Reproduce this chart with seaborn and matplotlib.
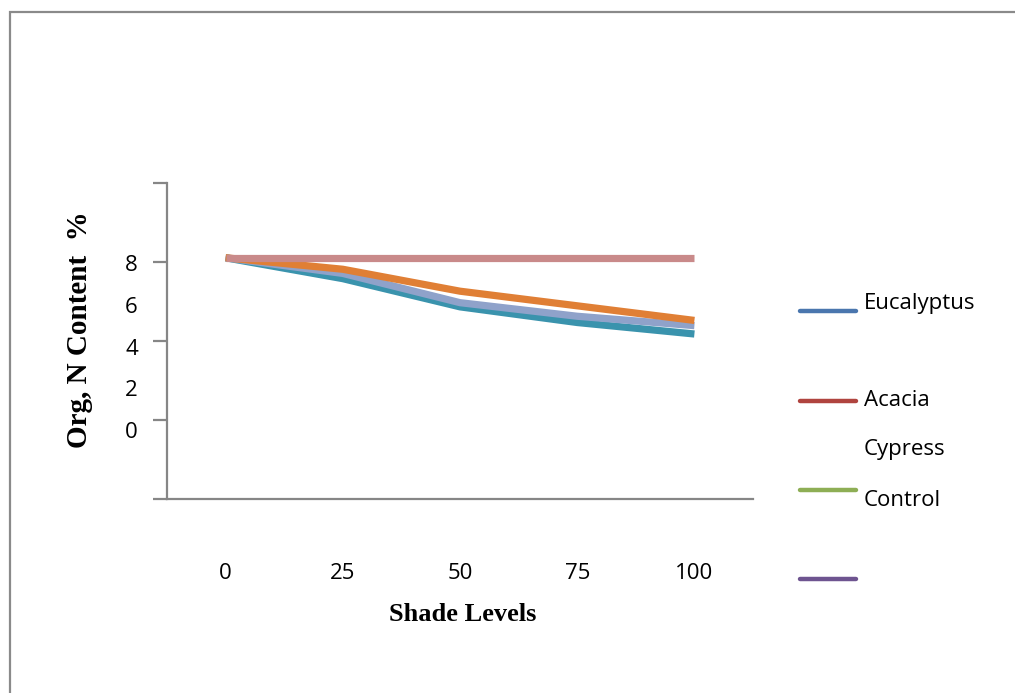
import numpy as np
import pandas as pd
import matplotlib
matplotlib.use("Agg")
import matplotlib.pyplot as plt
from matplotlib.lines import Line2D
from matplotlib.patches import Rectangle
import seaborn as sns

# Shade levels (%) and organic N content (%) of each plotted series
shade_levels = ["0", "25", "50", "75", "100"]
control_n = [8.25, 8.25, 8.25, 8.25, 8.25]
orange_n = [8.25, 7.7, 6.65, 5.95, 5.25]
lavender_n = [8.25, 7.5, 6.1, 5.45, 5.0]
teal_n = [8.25, 7.25, 5.9, 5.15, 4.6]

# Legend entries as they appear beside the chart
legend_labels = ["Eucalyptus", "Acacia", "Cypress", "Control", ""]
y_tick_labels = ["0", "2", "4", "6", "8"]

series = [
    ("s_teal", teal_n, "#3A93AD"),
    ("s_lavender", lavender_n, "#8FA2CA"),
    ("s_orange", orange_n, "#E07F35"),
    ("s_pink", control_n, "#C98A8A"),
]
rows = []
for name, vals, _ in series:
    for lvl, v in zip(shade_levels, vals):
        rows.append({"shade": lvl, "n": v, "series": name})
df = pd.DataFrame(rows)

sns.set_theme(style="white")
plt.rcParams["font.family"] = ["Open Sans", "DejaVu Sans"]

W, H = 1015, 693
fig = plt.figure(figsize=(W / 100, H / 100), dpi=100)
fig.patch.set_facecolor("white")

# outer chart-area frame (open to the right and bottom)
fig.add_artist(Rectangle((10 / W, -0.1), 1.2, (H - 12) / H + 0.1,
                         transform=fig.transFigure, fill=False,
                         edgecolor="#8A8A8A", linewidth=1.6))

ax_l, ax_r, ax_t, ax_b = 167, 753, 183, 499
ax = fig.add_axes([ax_l / W, (H - ax_b) / H, (ax_r - ax_l) / W, (ax_b - ax_t) / H])

palette = {name: c for name, _, c in series}
sns.lineplot(data=df, x="shade", y="n", hue="series", palette=palette,
             hue_order=[s[0] for s in series], sort=False, linewidth=5.2,
             legend=False, ax=ax)
for ln in ax.lines:
    ln.set_solid_capstyle("butt")
    ln.set_solid_joinstyle("round")

ax.set_xlim(-0.5, 4.5)
ylo, yhi = -3.3, 11.83
ax.set_ylim(ylo, yhi)

for side in ["top", "right"]:
    ax.spines[side].set_visible(False)
for side in ["left", "bottom"]:
    ax.spines[side].set_color("#868686")
    ax.spines[side].set_linewidth(1.6)

# value labels on the y axis, separate tick marks along the axis line
ax.set_yticks([0, 2, 4, 6, 8])
ax.set_yticklabels(y_tick_labels)
ax.set_yticks(np.linspace(ylo, yhi, 5), minor=True)
ax.tick_params(axis="y", which="major", length=0, pad=21, labelsize=16, labelcolor="black")
ax.tick_params(axis="y", which="minor", left=True, length=10, width=1.6, color="#868686")
ax.tick_params(axis="x", which="major", length=0, pad=46, labelsize=16, labelcolor="black")

ax.set_xlabel("Shade Levels", family="Liberation Serif", fontweight="bold",
              fontsize=19, color="black")
ax.set_ylabel("Org, N Content  %", family="Liberation Serif", fontweight="bold",
              fontsize=21, color="black")
ax.xaxis.set_label_coords(0.505, -0.33)
ax.yaxis.set_label_coords(-0.127, 0.535)

# legend drawn beside the plot area
legend_colors = ["#4A76AE", "#B0443F", None, "#8EAE55", "#6E5490"]
line_y = [311, 401, None, 490, 579]
text_y = [303, 400, 450, 500, None]
for lab, col, ly, ty in zip(legend_labels, legend_colors, line_y, text_y):
    if col is not None:
        fig.add_artist(Line2D([800 / W, 856 / W], [(H - ly) / H] * 2, color=col,
                              linewidth=3.2, transform=fig.transFigure))
    if ty is not None and lab:
        fig.text(864 / W, (H - ty) / H, lab, fontsize=16, va="center", ha="left",
                 color="black")

fig.savefig("out.png", dpi=100)
